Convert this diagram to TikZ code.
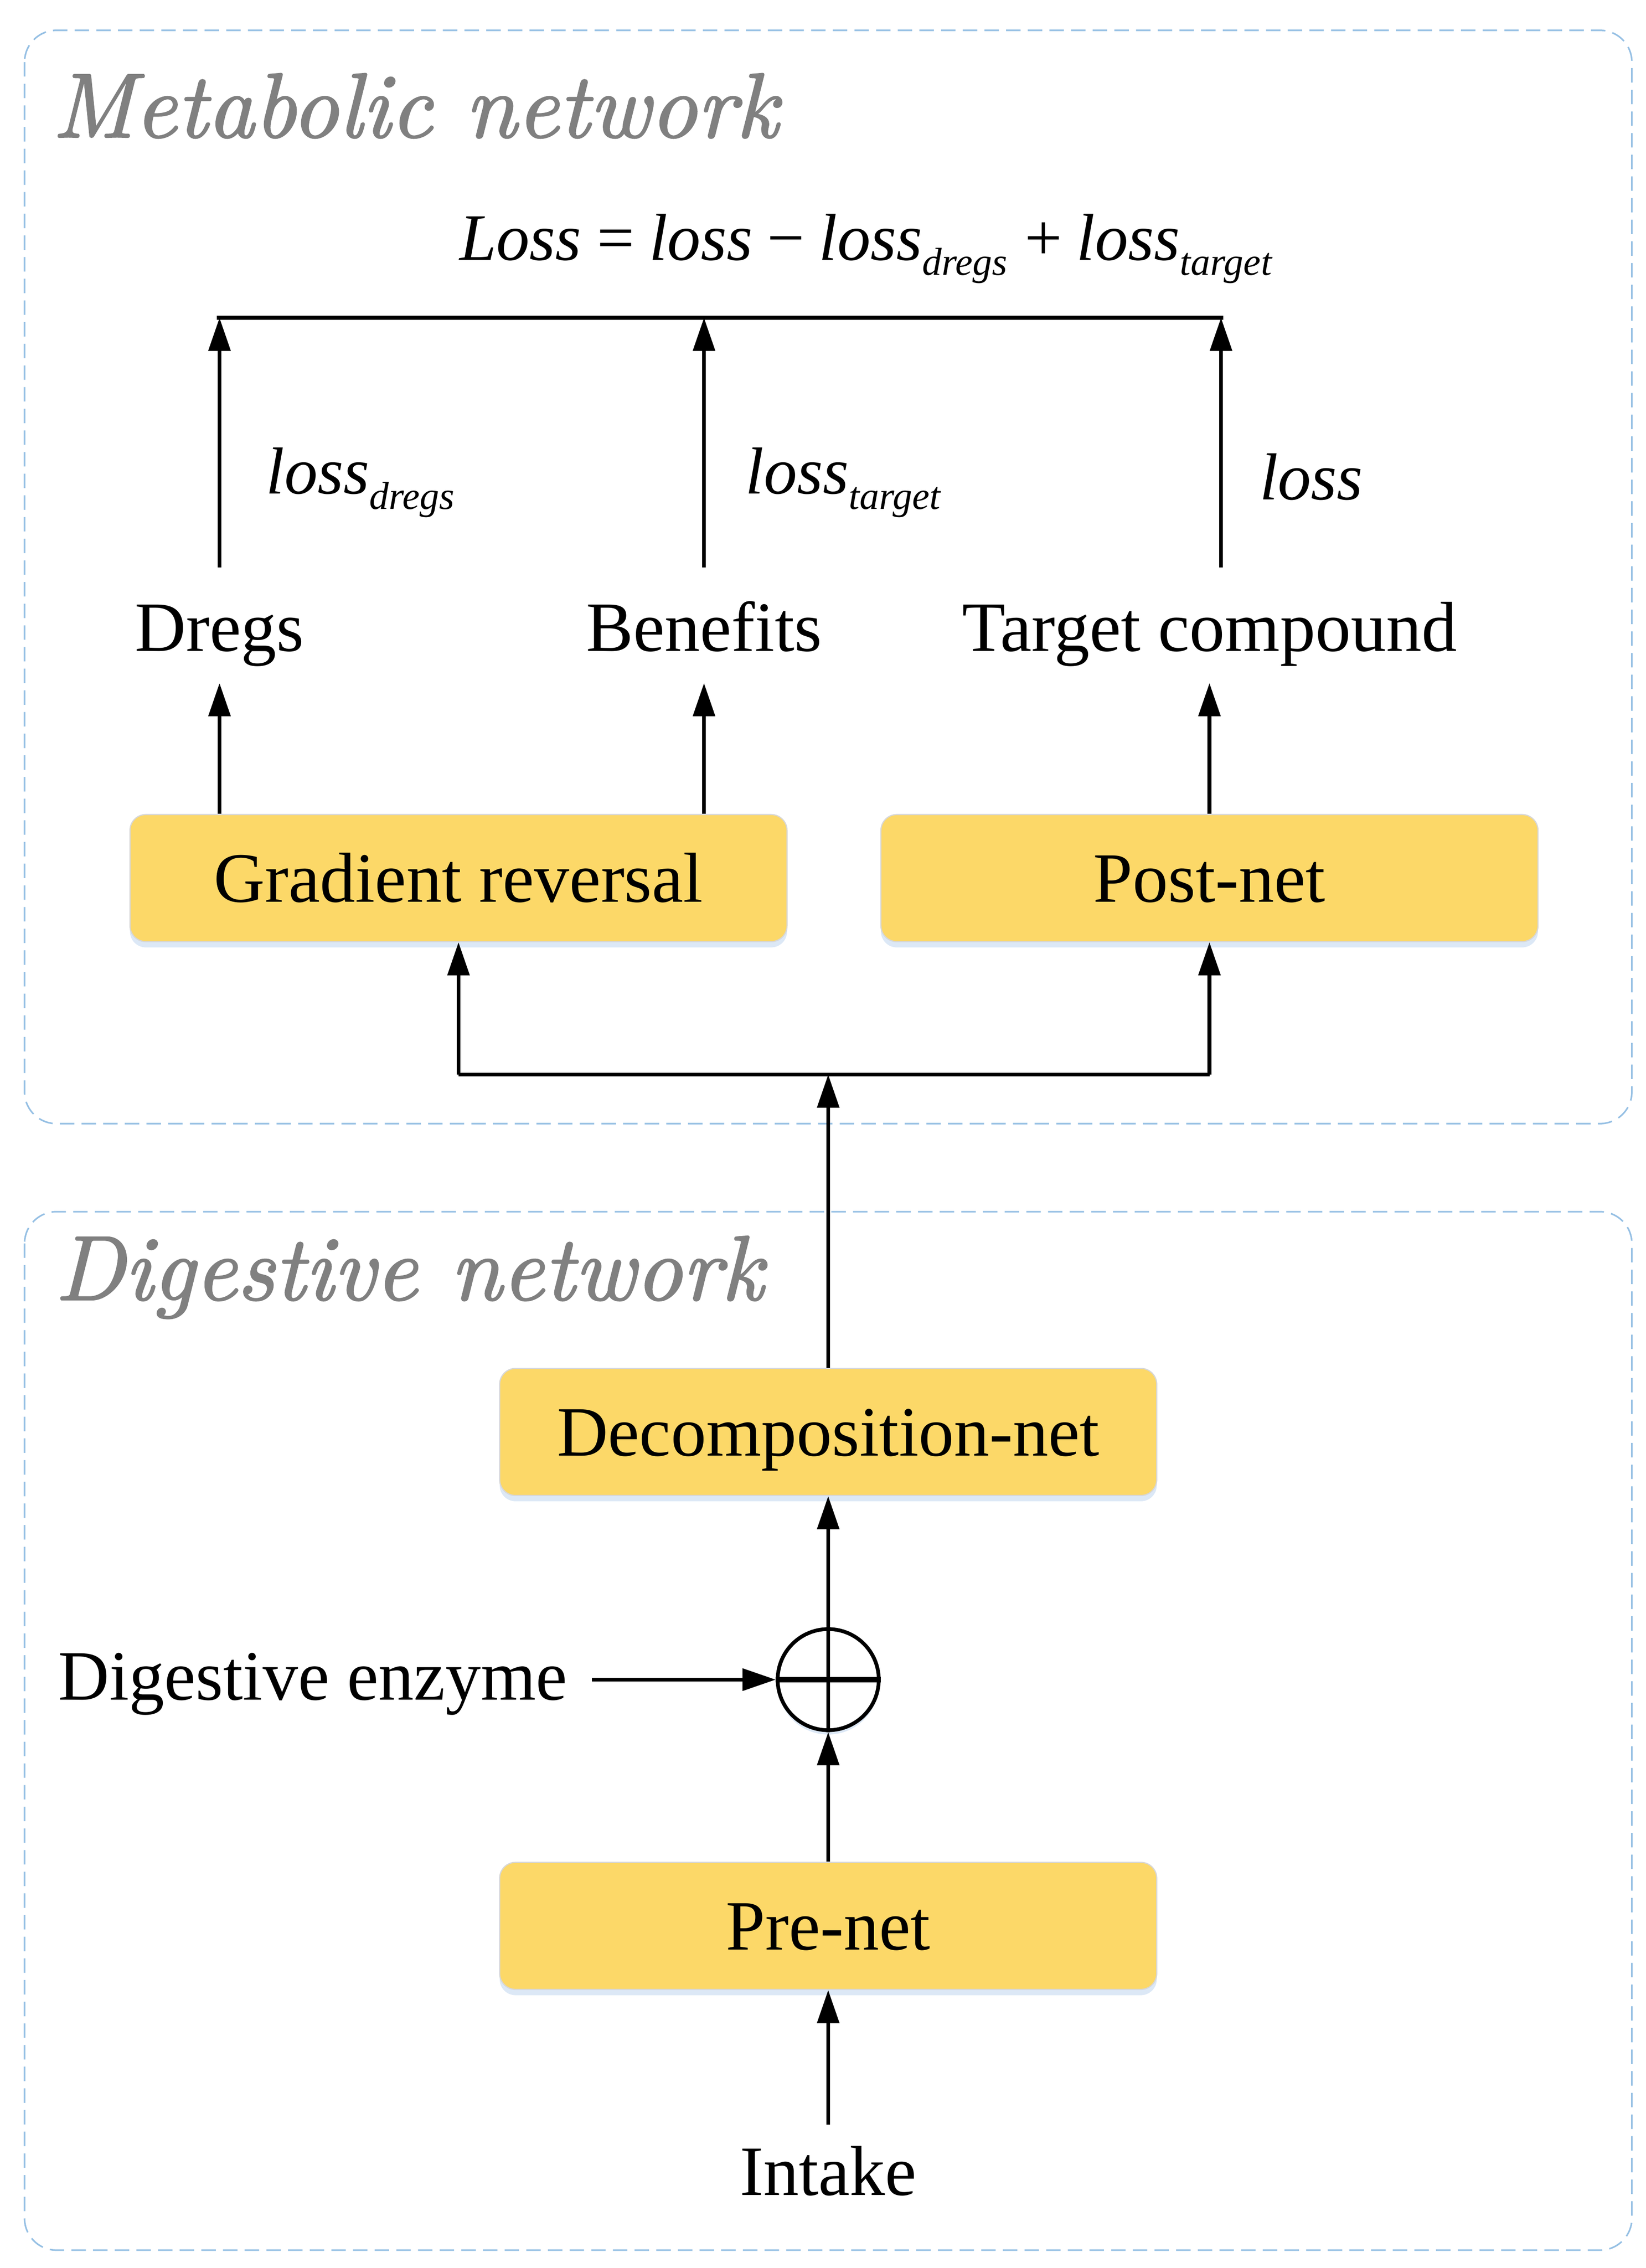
\documentclass[tikz,border=0pt]{standalone}
\usepackage{fontspec}
\newfontfamily\tnr{Liberation Serif}
\newfontfamily\lmti{lmroman10-italic.otf}[FakeBold=1.6]
\usetikzlibrary{arrows.meta,shadows}
\definecolor{boxyellow}{RGB}{252,216,104}
\definecolor{boxedge}{RGB}{215,215,215}
\definecolor{framecol}{RGB}{150,192,228}
\definecolor{titlegray}{RGB}{128,128,128}
\definecolor{glow}{RGB}{205,222,242}
\newcommand{\lsub}[1]{\raisebox{-10.5pt}{\fontsize{27}{27}\selectfont\tnr\itshape #1}}
\tikzset{
  frame/.style={draw=framecol, line width=1.1pt, dash pattern=on 10pt off 5pt, rounded corners=22pt},
  netbox/.style={rectangle, rounded corners=11pt, fill=boxyellow, draw=boxedge, line width=0.8pt,
     minimum width=455pt, minimum height=88pt, inner sep=0pt, text height=33pt, text depth=0pt,
     font=\fontsize{49}{58}\selectfont\tnr,
     drop shadow={shadow xshift=0pt, shadow yshift=-4pt, fill=glow, opacity=0.7}},
  lbl/.style={inner sep=0pt, font=\fontsize{49}{58}\selectfont\tnr},
  ilbl/.style={inner sep=0pt, font=\fontsize{46}{54}\selectfont\tnr\itshape},
  title/.style={inner sep=0pt, text=titlegray, font=\fontsize{63.5}{70}\selectfont\lmti},
  arr/.style={-{Triangle[length=23pt,width=15pt]}, line width=2.6pt},
  plainline/.style={line width=2.6pt},
}
\begin{document}
\begin{tikzpicture}[x=1pt,y=-1pt]
\useasboundingbox (0,0) rectangle (1139.5,1570.4);
% frames
\draw[frame] (17,21) rectangle (1130,778);
\draw[frame] (17,839) rectangle (1130,1558);
\node[title, anchor=base west] (ttop) at (36,95) {Metabolic network};
\node[title, anchor=base west] (tbot) at (38,900) {Digestive network};

% formula
\node[inner sep=0pt, anchor=base west, font=\fontsize{46}{54}\selectfont\tnr] (formula) at (318,180)
  {\textit{Loss}\hspace{11pt}=\hspace{10pt}\textit{loss}\hspace{10pt}−\hspace{10pt}\textit{loss}\lsub{dregs}\hspace{12pt}+\hspace{10pt}\textit{loss}\lsub{target}};

% boxes
\node[netbox] (gr) at (317.5,608) {Gradient reversal};
\node[netbox] (pn) at (837.5,608) {Post-net};
\node[netbox] (dn) at (573.5,991.5) {Decomposition-net};
\node[netbox] (pre) at (573.5,1333.5) {Pre-net};

% text labels
\node[lbl, anchor=base] (dregs) at (152,451) {Dregs};
\node[lbl, anchor=base] (benef) at (487.5,451) {Benefits};
\node[lbl, anchor=base] (target) at (837.5,451) {Target compound};
\node[lbl, anchor=base east] (enzyme) at (393,1177) {Digestive enzyme};
\node[lbl, anchor=base] (intake) at (573.5,1520) {Intake};

\node[ilbl, anchor=base west] (ld) at (184,342) {loss\lsub{dregs}};
\node[ilbl, anchor=base west] (lt) at (516,342) {loss\lsub{target}};
\node[ilbl, anchor=base west] (ll) at (872,346) {loss};

% sum node
\node[circle, draw, line width=2.6pt, minimum size=70pt, inner sep=0pt,
      drop shadow={shadow xshift=0pt, shadow yshift=-3pt, fill=glow, opacity=0.7}, fill=white] (sum) at (573.5,1163) {};
\draw[line width=2.6pt] (sum.north) -- (sum.south);
\draw[line width=3.6pt] (sum.west) -- (sum.east);

% coordinates
\coordinate (topL) at (150,220);
\coordinate (topR) at (847,220);
\coordinate (s1) at (152,393);
\coordinate (s2) at (487.5,393);
\coordinate (s3) at (845.5,393);
\coordinate (e1) at (152,473);
\coordinate (e2) at (487.5,473);
\coordinate (e3) at (837.5,473);
\coordinate (forkL) at (317.5,744);
\coordinate (forkR) at (837.5,744);
\coordinate (forkM) at (573.5,744);
\coordinate (enzS) at (410,1163);
\coordinate (intS) at (573.5,1471);

% top combining line
\draw[plainline] (topL) -- (topR);
\draw[arr] (s1) -- (s1 |- topL);
\draw[arr] (s2) -- (s2 |- topL);
\draw[arr] (s3) -- (s3 |- topL);

% boxes to outputs
\draw[arr] (gr.north -| e1) -- (e1);
\draw[arr] (gr.north -| e2) -- (e2);
\draw[arr] (pn.north) -- (e3);

% fork
\draw[plainline] (forkL) -- (forkR);
\draw[arr] (forkL) -- (gr.south);
\draw[arr] (forkR) -- (pn.south);
\draw[arr] (dn.north) -- (forkM);

% digestive part
\draw[arr] (sum.north) -- (dn.south);
\draw[arr] (pre.north) -- (sum.south);
\draw[arr] (enzS) -- (sum.west);
\draw[arr] (intS) -- (pre.south);
\end{tikzpicture}
\end{document}
